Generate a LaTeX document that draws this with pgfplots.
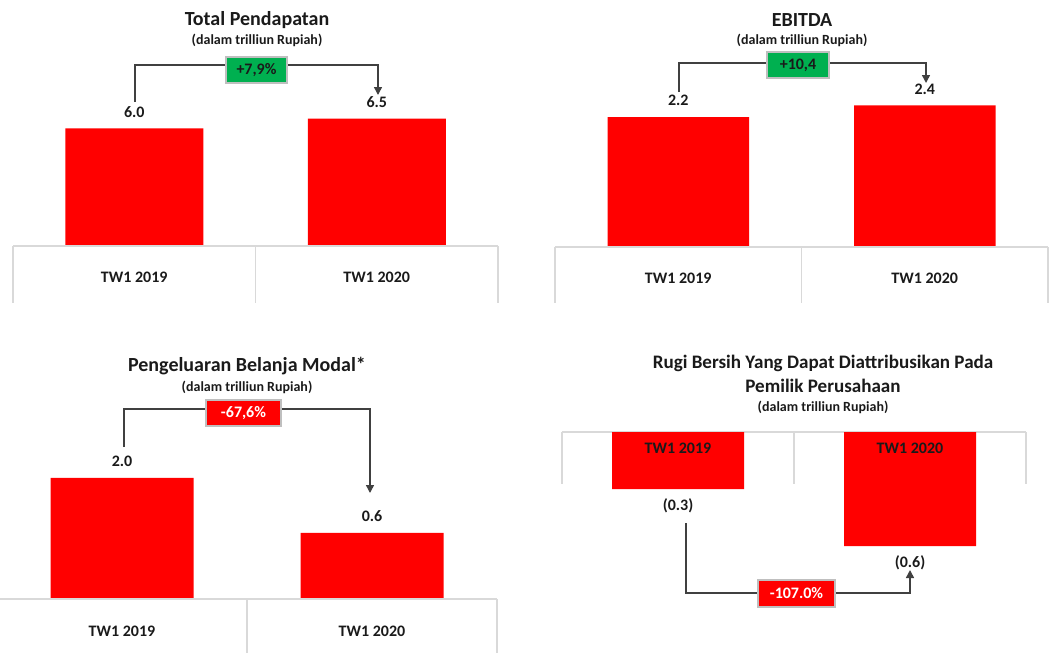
\documentclass[border=0pt]{standalone}
\usepackage{fontspec}
\setmainfont{Carlito}
\usepackage{pgfplots}
\pgfplotsset{compat=1.18}
\usetikzlibrary{arrows.meta}
\definecolor{barred}{HTML}{FF0000}
\definecolor{boxgreen}{HTML}{00B050}
\definecolor{tablegray}{HTML}{D9D9D9}
\definecolor{boxborder}{HTML}{BFBFBF}
\definecolor{linegray}{HTML}{404040}
\definecolor{txt}{HTML}{1A1A1A}
\pgfkeys{/pgf/number format/assume math mode=true}
\newcommand\titlefont{\fontsize{15}{18}\selectfont\bfseries}
\newcommand\subfont{\fontsize{10.5}{12}\selectfont\bfseries}
\newcommand\labfont{\fontsize{12}{14}\selectfont\bfseries}
\tikzset{tbl/.style={draw=tablegray, line width=1.1pt}}
\pgfplotsset{
  panel/.style={
    ybar, clip=false, axis on top,
    xmin=-0.5, xmax=1.5,
    xtick={0,1}, xticklabels={TW1 2019, TW1 2020},
    major tick length=0pt, xtick style={draw=none},
    ytick=\empty,
    axis line style={draw=none},
    point meta=explicit,
    xticklabel style={font=\labfont, text=txt, anchor=center},
    every node near coord/.append style={font=\labfont, text=txt, anchor=center},
  },
  posbars/.style={
    nodes near coords={\pgfmathprintnumber[fixed,fixed zerofill,precision=1]{\pgfplotspointmeta}},
    every node near coord/.append style={yshift=12.4pt},
  },
}
\begin{document}
\begin{tikzpicture}
\useasboundingbox (0pt,0pt) rectangle (789.75pt,-489.75pt);

% ---------- Panel 1: Total Pendapatan ----------
\begin{axis}[panel, posbars,
  at={(9.75pt,-184.5pt)}, anchor=south west,
  x=181.875pt, y=14.7pt, ymin=0, ymax=7,
  bar width=103.5pt,
  xticklabel style={yshift=-23.25pt}]
  \addplot[fill=barred, draw=none] coordinates {(0,6.0) [6.0] (1,6.5) [6.5]};
  \draw[tbl] (axis cs:-0.5,0) -- (axis cs:1.5,0);
  \draw[tbl] (axis cs:-0.5,0) -- (axis cs:-0.5,-2.908);
  \draw[tbl] (axis cs:0.5,0) -- (axis cs:0.5,-2.908);
  \draw[tbl] (axis cs:1.5,0) -- (axis cs:1.5,-2.908);
\end{axis}

% ---------- Panel 2: EBITDA ----------
\begin{axis}[panel, posbars,
  at={(416.25pt,-185.25pt)}, anchor=south west,
  x=184.875pt, y=44.25pt, ymin=0, ymax=2.6,
  bar width=106.125pt,
  xticklabel style={yshift=-23.25pt}]
  \addplot[fill=barred, draw=none] coordinates {(0,2.2) [2.2] (1,2.4) [2.4]};
  \draw[tbl] (axis cs:-0.5,0) -- (axis cs:1.5,0);
  \draw[tbl] (axis cs:-0.5,0) -- (axis cs:-0.5,-0.949);
  \draw[tbl] (axis cs:0.5,0) -- (axis cs:0.5,-0.949);
  \draw[tbl] (axis cs:1.5,0) -- (axis cs:1.5,-0.949);
\end{axis}

% ---------- Panel 3: Pengeluaran Belanja Modal ----------
\begin{axis}[panel, posbars,
  at={(-2.25pt,-449.25pt)}, anchor=south west,
  x=187.5pt, y=29.475pt, ymin=0, ymax=3.5,
  y filter/.expression={y+1.08},
  bar width=107.25pt,
  xticklabel style={yshift=-24pt}]
  \addplot[fill=barred, draw=none] coordinates {(0,2.0) [2.0] (1,0.6) [0.6]};
  \draw[tbl] (axis cs:-0.5,0) -- (axis cs:1.5,0);
  \draw[tbl] (axis cs:-0.5,0) -- (axis cs:-0.5,-1.4);
  \draw[tbl] (axis cs:0.5,0) -- (axis cs:0.5,-1.4);
  \draw[tbl] (axis cs:1.5,0) -- (axis cs:1.5,-1.4);
\end{axis}

% ---------- Panel 4: Rugi Bersih ----------
\begin{axis}[panel,
  at={(421.5pt,-324pt)}, anchor=north west,
  x=174pt, y=142.5pt, ymin=-0.7, ymax=0,
  bar width=99pt,
  xticklabel pos=upper,
  xticklabel style={yshift=-12pt},
  nodes near coords={(\pgfmathprintnumber[fixed,fixed zerofill,precision=1]{\pgfplotspointmeta})},
  every node near coord/.append style={yshift=-12.4pt}]
  \draw[tbl] (axis cs:-0.5,0) -- (axis cs:1.5,0);
  \draw[tbl] (axis cs:-0.5,0) -- (axis cs:-0.5,-0.274);
  \draw[tbl] (axis cs:0.5,0) -- (axis cs:0.5,-0.274);
  \draw[tbl] (axis cs:1.5,0) -- (axis cs:1.5,-0.274);
  \addplot[fill=barred, draw=none] coordinates {(0,-0.3) [0.3] (1,-0.6) [0.6]};
\end{axis}

% ---------- Annotations (pixel coordinates) ----------
\begin{scope}[x=0.75pt, y=-0.75pt, text=txt]
  \node[font=\titlefont] at (257,20) {Total Pendapatan};
  \node[font=\subfont] at (257,40) {(dalam trilliun Rupiah)};
  \node[font=\titlefont] at (802,20) {EBITDA};
  \node[font=\subfont] at (802,40) {(dalam trilliun Rupiah)};
  \node[font=\titlefont] at (247,366) {Pengeluaran Belanja Modal*};
  \node[font=\subfont] at (247,387) {(dalam trilliun Rupiah)};
  \node[font=\fontsize{14.3}{17}\selectfont\bfseries] at (823,363) {Rugi Bersih Yang Dapat Diattribusikan Pada};
  \node[font=\fontsize{14.3}{17}\selectfont\bfseries] at (823,386) {Pemilik Perusahaan};
  \node[font=\subfont] at (823,407) {(dalam trilliun Rupiah)};

  \tikzset{brk/.style={draw=linegray, line width=1.1pt, -{Triangle[length=6pt,width=6pt]}},
           bx/.style={draw=boxborder, line width=1pt, inner sep=0pt, font=\labfont}}
  \draw[brk] (135,102) -- (135,65) -- (378,65) -- (378,95);
  \node[bx, fill=boxgreen, text=txt, minimum width=45.75pt, minimum height=19.5pt] at (256.5,70) {+7,9\%};

  \draw[brk] (679,92) -- (679,63) -- (926,63) -- (926,83);
  \node[bx, fill=boxgreen, text=txt, minimum width=46.5pt, minimum height=19.5pt] at (798,65) {+10,4};

  \draw[brk] (124,447) -- (124,409) -- (370,409) -- (370,493);
  \node[bx, fill=barred, text=white, minimum width=56.25pt, minimum height=19.5pt] at (243.5,413) {-67,6\%};

  \draw[brk] (686,523) -- (686,593) -- (910,593) -- (910,570);
  \node[bx, fill=barred, text=white, minimum width=57.75pt, minimum height=20.25pt] at (796.5,593.5) {-107.0\%};
\end{scope}
\end{tikzpicture}
\end{document}
